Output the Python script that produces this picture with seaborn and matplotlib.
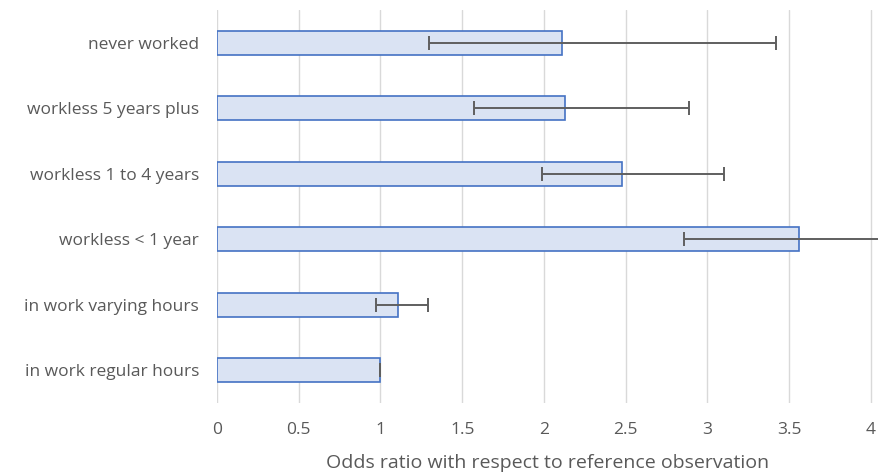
import matplotlib
matplotlib.use("Agg")
import matplotlib.pyplot as plt
import seaborn as sns
import pandas as pd

# Employment status categories (top to bottom)
categories = [
    "never worked",
    "workless 5 years plus",
    "workless 1 to 4 years",
    "workless < 1 year",
    "in work varying hours",
    "in work regular hours",
]
odds_ratio = [2.11, 2.13, 2.48, 3.56, 1.11, 1.00]
ci_low = [1.30, 1.57, 1.99, 2.86, 0.97, 1.00]
ci_high = [3.42, 2.89, 3.10, 4.43, 1.29, 1.00]
x_ticks = [0, 0.5, 1, 1.5, 2, 2.5, 3, 3.5, 4]
x_tick_labels = ["0", "0.5", "1", "1.5", "2", "2.5", "3", "3.5", "4"]

df = pd.DataFrame({"status": categories, "odds": odds_ratio,
                   "lo": ci_low, "hi": ci_high})

sns.set_theme(style="white")
plt.rcParams["font.family"] = ["Open Sans", "DejaVu Sans"]

text_color = "#595959"
fig = plt.figure(figsize=(8.79, 4.76), dpi=100)
ax = fig.add_axes([217 / 879, 1 - 403 / 476, 1 - 217 / 879, (403 - 10) / 476])

sns.barplot(data=df, x="odds", y="status", order=categories, orient="h",
            color="#dae3f3", edgecolor="#4472c4", linewidth=1.2,
            width=0.36, saturation=1, errorbar=None, ax=ax, zorder=2)

# Confidence interval whiskers
ypos = list(range(len(categories)))
xerr = [[o - l for o, l in zip(df["odds"], df["lo"])],
        [h - o for o, h in zip(df["odds"], df["hi"])]]
ax.errorbar(df["odds"], ypos, xerr=xerr, fmt="none", ecolor="#5f5f5f",
            elinewidth=1.4, capsize=5, capthick=1.4, zorder=3,
            clip_on=True)

ax.set_xlim(0, 4.05)
ax.set_ylim(len(categories) - 0.5, -0.5)
ax.set_xticks(x_ticks)
ax.set_xticklabels(x_tick_labels)
ax.grid(axis="x", color="#d9d9d9", linewidth=1.0, zorder=0)
ax.set_axisbelow(True)
for s in ax.spines.values():
    s.set_visible(False)

ax.tick_params(axis="both", length=0, labelsize=12.5, colors=text_color)
ax.tick_params(axis="x", pad=14)
ax.tick_params(axis="y", pad=13)
ax.set_ylabel("")
ax.set_xlabel("Odds ratio with respect to reference observation",
              fontsize=14, color=text_color, labelpad=11)

fig.savefig("out.png", dpi=100)
